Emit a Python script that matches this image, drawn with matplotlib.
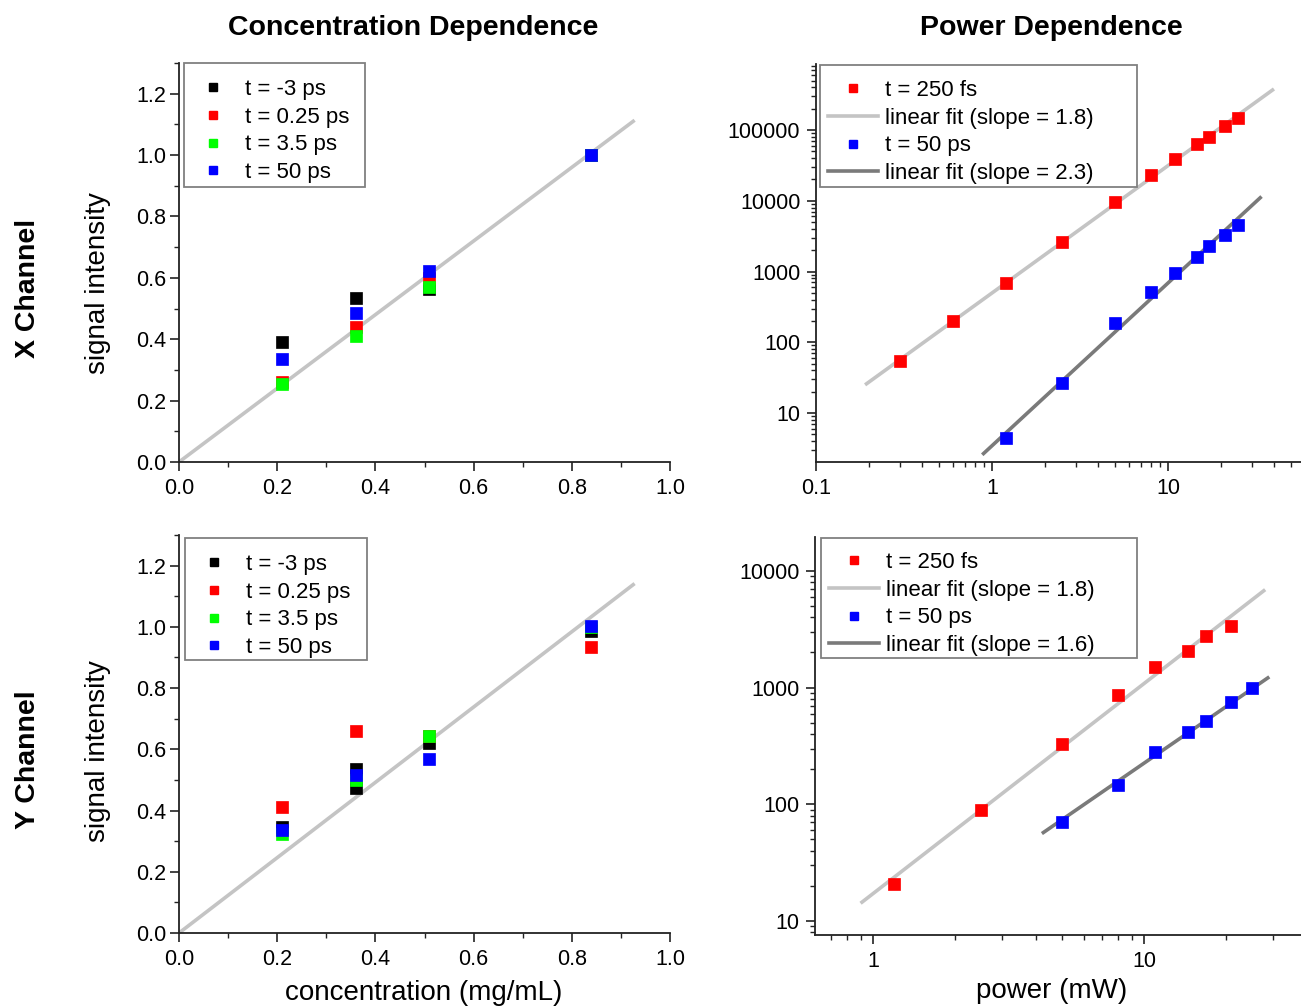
import numpy as np
import matplotlib
matplotlib.use("Agg")
import matplotlib.pyplot as plt
from matplotlib.lines import Line2D
from matplotlib.patches import Rectangle
from matplotlib.ticker import (MultipleLocator, FormatStrFormatter, LogLocator,
                               FuncFormatter, NullFormatter)

plt.rcParams['font.family'] = ['Liberation Sans', 'DejaVu Sans']

# ---- concentration dependence -------------------------------------------
delay_labels = ['t = -3 ps', 't = 0.25 ps', 't = 3.5 ps', 't = 50 ps']
delay_colors = ['#000000', '#ff0000', '#00ff00', '#0000ff']

# X channel
xc_conc = [0.21, 0.36, 0.51, 0.84]
xc_m3ps = [0.392, 0.535, 0.563, 1.0]
xc_025ps = [0.260, 0.439, 0.600, 1.0]
xc_35ps = [0.255, 0.411, 0.569, 1.0]
xc_50ps = [0.337, 0.486, 0.622, 1.0]

# Y channel (the -3 ps series has a repeated 0.36 mg/mL measurement)
yc_conc_m3ps = [0.21, 0.36, 0.36, 0.51, 0.84]
yc_conc = [0.21, 0.36, 0.51, 0.84]
yc_m3ps = [0.347, 0.535, 0.475, 0.619, 0.985]
yc_025ps = [0.413, 0.661, 0.645, 0.935]
yc_35ps = [0.325, 0.500, 0.645, 1.0]
yc_50ps = [0.336, 0.516, 0.567, 1.003]

conc_fit_slope = [1.20, 1.23]   # X, Y channel, fit through origin
conc_fit_end = 0.925

# ---- power dependence ---------------------------------------------------
xp_power_250fs = [0.3, 0.6, 1.2, 2.5, 5, 8, 11, 14.6, 17, 21, 25]
xp_250fs = [54, 198, 692, 2640, 9470, 23000, 38600, 63000, 79000, 114000, 149000]
xp_power_50ps = [1.2, 2.5, 5, 8, 11, 14.6, 17, 21, 25]
xp_50ps = [4.4, 26.7, 189, 510, 955, 1620, 2270, 3310, 4550]

yp_power_250fs = [1.2, 2.5, 5, 8, 11, 14.5, 17, 21]
yp_250fs = [20.7, 89, 332, 871, 1490, 2040, 2760, 3380]
yp_power_50ps = [5, 8, 11, 14.5, 17, 21, 25]
yp_50ps = [70.6, 147, 282, 414, 522, 748, 1000]

xp_fit_slopes = [1.8, 2.3]
yp_fit_slopes = [1.8, 1.6]
xp_fit_ranges = [(0.19, 40), (0.88, 34)]
yp_fit_ranges = [(0.9, 28), (4.2, 29)]

fit_colors = ['#c4c4c4', '#7a7a7a']
conc_line_color = '#c4c4c4'

W, H = 1301, 1008
fig = plt.figure(figsize=(W / 100, H / 100), dpi=100)


def px_axes(left, top, right, bottom):
    return fig.add_axes([left / W, 1 - bottom / H, (right - left) / W, (bottom - top) / H])


def style(ax, ypad):
    for s in ('top', 'right'):
        ax.spines[s].set_visible(False)
    for s in ('left', 'bottom'):
        ax.spines[s].set_linewidth(1.3)
        ax.spines[s].set_color('#222222')
    ax.tick_params(which='major', direction='out', length=6.3, width=1.2,
                   labelsize=15.5, color='#222222')
    ax.tick_params(which='minor', direction='out', length=3.5, width=1.0,
                   color='#222222')
    ax.tick_params(axis='x', which='major', pad=5)
    ax.tick_params(axis='y', which='major', pad=ypad)


def leg(ax, handles, labels, frame_px, anchor_px):
    """Legend text/handles anchored at a pixel spot, boxed by a plain frame."""
    x0, y0, x1, y1 = frame_px
    ax.add_patch(Rectangle((x0 / W, 1 - y1 / H), (x1 - x0) / W, (y1 - y0) / H,
                           transform=fig.transFigure, facecolor='white',
                           edgecolor='#808080', lw=1.3, zorder=4, clip_on=False))
    ax_, ay_ = anchor_px
    lg = ax.legend(handles, labels, loc='upper left',
                   bbox_to_anchor=(ax_ / W, 1 - ay_ / H),
                   bbox_transform=fig.transFigure,
                   borderaxespad=0, borderpad=0, fontsize=16, frameon=False,
                   handlelength=2.25, handletextpad=0.32, labelspacing=0.3,
                   markerscale=0.75)
    lg.set_zorder(6)
    return lg


def conc_panel(ax, xs, ys, slope):
    style(ax, 3)
    fx = np.array([0.0, conc_fit_end])
    ax.plot(fx, slope * fx, color=conc_line_color, lw=2.6, zorder=2)
    handles = []
    for x, y, c in zip(xs, ys, delay_colors):
        ax.plot(x, y, ls='none', marker='s', ms=8, mfc=c, mec=c, mew=0.5, zorder=3)
        handles.append(Line2D([], [], ls='none', marker='s', ms=8, mfc=c, mec=c))
    ax.set_xlim(0, 1.0)
    ax.set_ylim(0, 1.3)
    ax.xaxis.set_major_locator(MultipleLocator(0.2))
    ax.xaxis.set_minor_locator(MultipleLocator(0.1))
    ax.yaxis.set_major_locator(MultipleLocator(0.2))
    ax.yaxis.set_minor_locator(MultipleLocator(0.1))
    ax.xaxis.set_major_formatter(FormatStrFormatter('%.1f'))
    ax.yaxis.set_major_formatter(FormatStrFormatter('%.1f'))
    return handles


def power_panel(ax, series, slopes, ranges, xlim, ylim):
    style(ax, 5)
    ax.set_xscale('log')
    ax.set_yscale('log')
    handles = []
    for (x, y, c), k, (x0, x1), fc in zip(series, slopes, ranges, fit_colors):
        lx, ly = np.log10(x), np.log10(y)
        b = np.mean(ly - k * lx)
        fx = np.array([x0, x1])
        ax.plot(fx, 10 ** (b + k * np.log10(fx)), color=fc, lw=2.6, zorder=2,
                solid_capstyle='butt')
        ax.plot(x, y, ls='none', marker='s', ms=8, mfc=c, mec=c, mew=0.5, zorder=3)
        handles.append(Line2D([], [], ls='none', marker='s', ms=8, mfc=c, mec=c))
        handles.append(Line2D([], [], color=fc, lw=2.6))
    ax.set_xlim(*xlim)
    ax.set_ylim(*ylim)
    fmt = FuncFormatter(lambda v, p: '%g' % v)
    for a in (ax.xaxis, ax.yaxis):
        a.set_major_locator(LogLocator(base=10, numticks=20))
        a.set_minor_locator(LogLocator(base=10, subs=np.arange(2, 10), numticks=100))
        a.set_major_formatter(fmt)
        a.set_minor_formatter(NullFormatter())
    labels = ['t = 250 fs', 'linear fit (slope = %.1f)' % slopes[0],
              't = 50 ps', 'linear fit (slope = %.1f)' % slopes[1]]
    return handles, labels


# X channel, concentration
ax1 = px_axes(179, 63, 670, 462)
h = conc_panel(ax1, [xc_conc] * 4, [xc_m3ps, xc_025ps, xc_35ps, xc_50ps], conc_fit_slope[0])
leg(ax1, h, delay_labels, (184, 63, 365, 187), (188, 79))

# Y channel, concentration
ax3 = px_axes(179, 535, 670, 933)
h = conc_panel(ax3, [yc_conc_m3ps, yc_conc, yc_conc, yc_conc],
               [yc_m3ps, yc_025ps, yc_35ps, yc_50ps], conc_fit_slope[1])
leg(ax3, h, delay_labels, (185, 538, 367, 660), (189, 554))

# X channel, power
ax2 = px_axes(816, 64, 816 + 176 * np.log10(600), 462)
h, lab = power_panel(ax2,
                     [(xp_power_250fs, xp_250fs, '#ff0000'), (xp_power_50ps, xp_50ps, '#0000ff')],
                     xp_fit_slopes, xp_fit_ranges, (0.1, 60), (2.03, 8.57e5))
leg(ax2, h, lab, (820, 65, 1137, 187), (828, 80))

# Y channel, power
ax4 = px_axes(815, 537, 815 + 271 * np.log10(40 / 0.611), 935)
h, lab = power_panel(ax4,
                     [(yp_power_250fs, yp_250fs, '#ff0000'), (yp_power_50ps, yp_50ps, '#0000ff')],
                     yp_fit_slopes, yp_fit_ranges, (0.611, 40), (7.59, 19530))
leg(ax4, h, lab, (821, 538, 1137, 658), (829, 552))


def ftext(x, y, s, **kw):
    fig.text(x / W, 1 - y / H, s, ha='center', va='center', **kw)


ftext(413, 28, 'Concentration Dependence', fontsize=20.5, fontweight='bold')
ftext(1051, 28, 'Power Dependence', fontsize=20.5, fontweight='bold')
ftext(28, 288, 'X Channel', fontsize=20.5, fontweight='bold', rotation=90)
ftext(28, 760, 'Y Channel', fontsize=20.5, fontweight='bold', rotation=90)
ftext(98, 283, 'signal intensity', fontsize=20, rotation=90)
ftext(98, 751, 'signal intensity', fontsize=20, rotation=90)
ftext(424, 993, 'concentration (mg/mL)', fontsize=20)
ftext(1052, 991, 'power (mW)', fontsize=20)

fig.savefig('out.png', dpi=100)
